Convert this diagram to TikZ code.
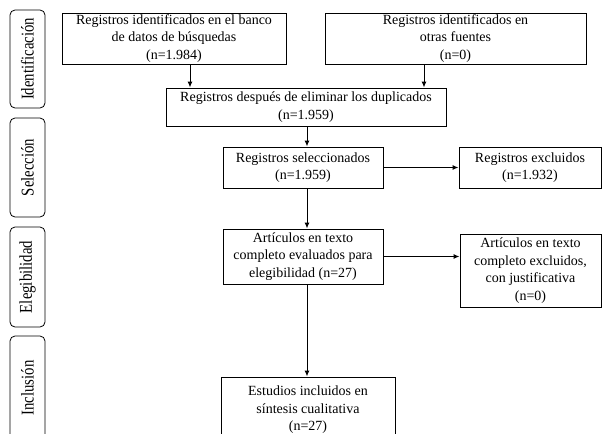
\documentclass[tikz,border=0pt]{standalone}
\usepackage{fontspec}
\usepackage{graphicx}
\setmainfont{Liberation Serif}
\usetikzlibrary{arrows.meta,positioning}

\newcommand{\etapa}[1]{\scalebox{0.82}[1]{#1}}

\begin{document}
\begin{tikzpicture}[
  x=1pt,
  y=-1pt,
  >={Latex[length=6pt,width=5pt]},
  caja/.style={draw, line width=1pt, align=center, inner sep=0pt, font=\fontsize{14}{17.5}\selectfont},
  fase/.style={draw, rounded corners=5pt, line width=0.8pt, minimum height=35pt, rotate=90, inner sep=0pt, font=\fontsize{18}{20}\selectfont},
  arrow/.style={->, line width=1pt}
]
  \clip (0,0) rectangle (603,434);

  \node[fase, minimum width=98pt] (ident) at (27.5,59) {\etapa{Identificación}};
  \node[fase, minimum width=99pt] (selec) at (27.5,167.5) {\etapa{Selección}};
  \node[fase, minimum width=100pt] (eleg) at (27.5,277) {\etapa{Elegibilidad}};
  \node[fase, minimum width=104pt] (incl) at (27.5,388) {\etapa{Inclusión}};

  \node[caja, minimum width=224pt, minimum height=51pt] (banco) at (174,38.5) {Registros identificados en el banco\\de datos de búsquedas\\(n=1.984)};
  \node[caja, minimum width=261pt, minimum height=51pt] (otras) at (455.5,38.5) {Registros identificados en\\otras fuentes\\(n=0)};
  \node[caja, minimum width=280pt, minimum height=38pt] (dupl) at (306,107) {Registros después de eliminar los duplicados\\(n=1.959)};
  \node[caja, minimum width=160pt, minimum height=41pt] (selecc) at (303,167.5) {Registros seleccionados\\(n=1.959)};
  \node[caja, minimum width=142pt, minimum height=41pt] (excl) at (530,167.5) {Registros excluidos\\(n=1.932)};
  \node[caja, minimum width=160pt, minimum height=55pt] (artic) at (303,256.5) {Artículos en texto\\completo evaluados para\\elegibilidad (n=27)};
  \node[caja, minimum width=141pt, minimum height=73pt] (artexcl) at (530.5,270.5) {Artículos en texto\\completo excluidos,\\con justificativa\\(n=0)};
  \node[caja, minimum width=174pt, minimum height=66pt] (estud) at (308,410) {Estudios incluidos en\\síntesis cualitativa\\(n=27)};

  \draw[arrow] ([xshift=16pt]banco.south) -- ([xshift=16pt]banco.south |- dupl.north);
  \draw[arrow] ([xshift=-31.5pt]otras.south) -- ([xshift=-31.5pt]otras.south |- dupl.north);
  \draw[arrow] ([xshift=1pt]dupl.south) -- ([xshift=1pt]dupl.south |- selecc.north);
  \draw[arrow] (selecc.east) -- (excl.west);
  \draw[arrow] ([xshift=4pt]selecc.south) -- ([xshift=4pt]selecc.south |- artic.north);
  \draw[arrow] (artic.east) -- (artic.east -| artexcl.west);
  \draw[arrow] ([xshift=4pt]artic.south) -- ([xshift=4pt]artic.south |- estud.north);
\end{tikzpicture}
\end{document}
